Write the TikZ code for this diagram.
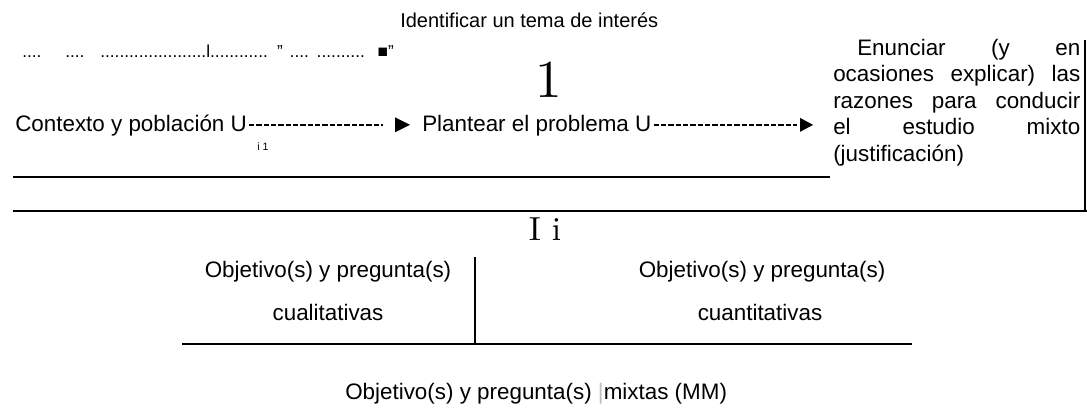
\documentclass[tikz,border=0pt]{standalone}
\usepackage{fontspec}
\setmainfont{Liberation Sans}[Ligatures=NoCommon]
\newfontfamily\lmfont{lmroman10-regular.otf}
\usepackage{xcolor}
\tikzset{
  body/.style={font=\fontsize{16.8pt}{20pt}\selectfont, inner sep=0pt, text height=12.6pt, text depth=3.4pt},
  boxtxt/.style={font=\fontsize{16.8pt}{19.9pt}\selectfont, inner sep=0pt},
  head/.style={font=\fontsize{15pt}{18pt}\selectfont, inner sep=0pt},
  dotrow/.style={font=\fontsize{13pt}{15pt}\selectfont, inner sep=0pt},
  small/.style={font=\fontsize{8pt}{10pt}\selectfont, inner sep=0pt},
  serifbig/.style={font=\lmfont\fontsize{40pt}{48pt}\selectfont, inner sep=0pt},
  serifmid/.style={font=\lmfont\fontsize{25pt}{30pt}\selectfont, inner sep=0pt},
  rule/.style={line width=1.5pt},
  hy/.style={line width=1.3pt, dash pattern=on 4pt off 1.5pt},
}
\begin{document}
\begin{tikzpicture}[x=0.75pt,y=-0.75pt]
\useasboundingbox (0,0) rectangle (1087,407);
% top texts
\node[head, anchor=base west] (tema) at (400,27) {Identificar un tema de interés};
\node[dotrow, anchor=base west] (puntos) at (22,57) {....\hspace{17.8pt}....\hspace{11.8pt}......................l............\hspace{6.9pt}"\hspace{5.1pt}....\hspace{5.8pt}..........\hspace{9.6pt}■"};
\node[serifbig, anchor=base] (uno) at (549,97) {1};
% arrow row
\node[body, anchor=base west] (ctx) at (15,131) {Contexto y población U};
\node[small, anchor=base west] (sub) at (257,150) {i 1};
\node[body, anchor=base west] (plan) at (422,131) {Plantear el problema U};
\node[boxtxt, anchor=base west] (enun) at (833,55) {\parbox[t]{185.25pt}{\fontsize{16.8pt}{19.9pt}\selectfont
\hspace*{18pt}\makebox[167.25pt][s]{Enunciar (y en}\\
\makebox[185.25pt][s]{ocasiones explicar) las}\\
\makebox[185.25pt][s]{razones para conducir}\\
\makebox[185.25pt][s]{el estudio mixto}\\
(justificación)}};
% connectors
\coordinate (a1) at ([xshift=-9pt]plan.west);
\fill (a1) -- ++(-15,-7.5) -- ++(0,15) -- cycle;
\draw[hy] ([xshift=1.5pt]ctx.east) -- ([xshift=-20.25pt]a1);
\coordinate (a2) at ([xshift=-15pt]enun.west |- plan.west);
\fill (a2) -- ++(-13,-7) -- ++(0,14) -- cycle;
\draw[hy] ([xshift=1.5pt]plan.east) -- ([xshift=-12pt]a2);
% rules
\draw[rule] (13,177) -- (830,177);
\draw[rule] (1085,40) -- (1085,211);
\draw[rule] (13,211) -- (1087,211);
% lower part
\node[serifmid, anchor=base] (ii) at (545,240) {I i};
\node[body, anchor=base] (obj1) at (328,277) {Objetivo(s) y pregunta(s)};
\node[body, anchor=base] (cual) at (328,320) {cualitativas};
\node[body, anchor=base] (obj2) at (762,277) {Objetivo(s) y pregunta(s)};
\node[body, anchor=base] (cuant) at (760,320) {cuantitativas};
\draw[rule] (475,257) -- (475,344);
\draw[rule] (182,344) -- (912,344);
\node[body, anchor=base west] (mix) at (345,399) {Objetivo(s) y pregunta(s) {\color{black!25}|}mixtas (MM)};
\end{tikzpicture}
\end{document}
